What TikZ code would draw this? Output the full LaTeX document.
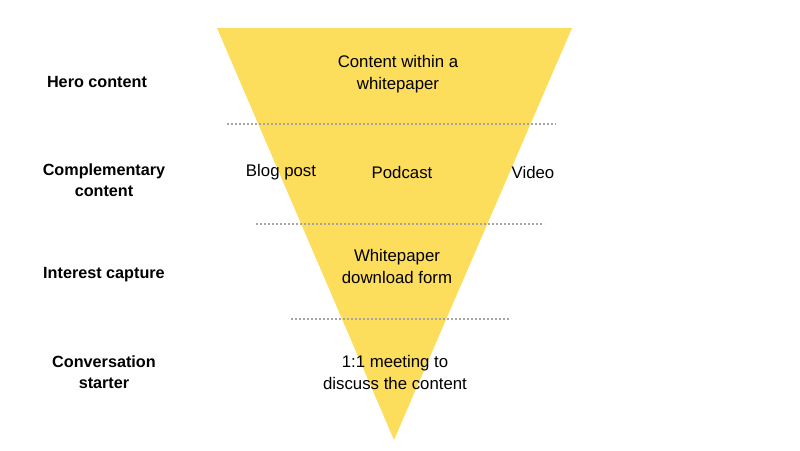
\documentclass[tikz,border=0pt]{standalone}
\usepackage{fontspec}
\setmainfont{Liberation Sans}
\usepackage{tikz}
\usetikzlibrary{positioning}
\definecolor{fnyellow}{HTML}{FDDD5C}
\definecolor{fngray}{HTML}{A5A5A5}

\begin{document}
\begin{tikzpicture}[
    x=1pt, y=-1pt,
    font=\fontsize{16.8}{22}\selectfont,
    stage/.style={align=center, font=\fontsize{16.2}{21}\selectfont\bfseries},
    item/.style={align=center},
    divider/.style={draw=fngray, line width=1.8pt, dash pattern=on 1.8pt off 2.2pt}
  ]
    \useasboundingbox (0,0) rectangle (800,450);
    % funnel
    \coordinate (tl) at (217,28);
    \coordinate (tr) at (572,28);
    \coordinate (apex) at (394,440);
    \fill[fnyellow] (tl) -- (tr) -- (apex) -- cycle;
    % dividers
    \draw[divider] (227,124) -- (556,124);
    \draw[divider] (256,224) -- (544,224);
    \draw[divider] (291,319) -- (509,319);
    % stage labels
    \node[stage] (hero) at (97,82) {Hero content};
    \node[stage] (compl) at (104,180) {Complementary\\content};
    \node[stage] (capture) at (104,275) {Interest capture};
    \node[stage] (starter) at (104,372) {Conversation\\starter};
    % funnel items
    \node[item] (paper) at (398,74) {Content within a\\whitepaper};
    \node[item] (blog) at (281,172) {Blog post};
    \node[item] (podcast) at (402,172) {Podcast};
    \node[item] (video) at (533,172) {Video};
    \node[item] (form) at (397,266) {Whitepaper\\download form};
    \node[item] (meeting) at (395,372) {1:1 meeting to\\discuss the content};
\end{tikzpicture}
\end{document}
